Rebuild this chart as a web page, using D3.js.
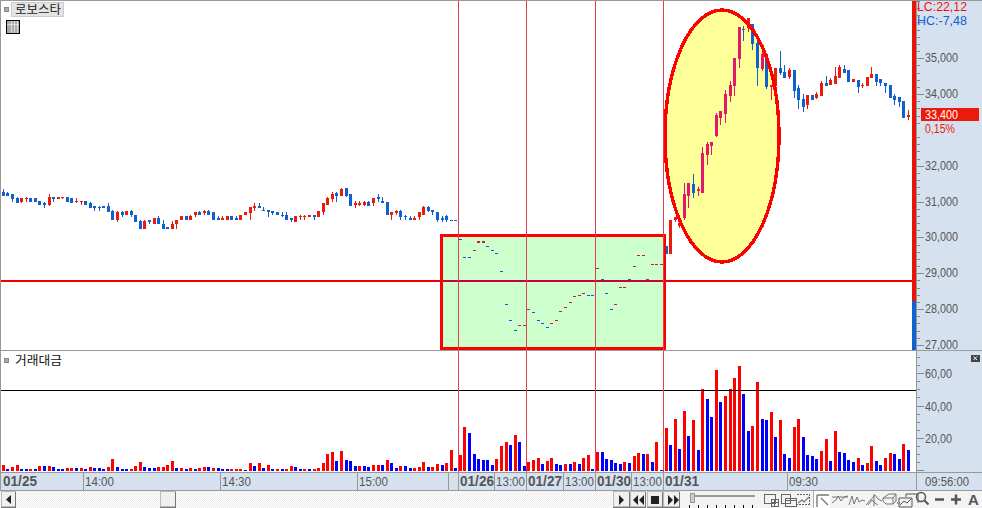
<!DOCTYPE html>
<html><head><meta charset="utf-8">
<script src="https://cdnjs.cloudflare.com/ajax/libs/d3/7.8.5/d3.min.js"></script>
<style>html,body{margin:0;padding:0;background:#fff;overflow:hidden}svg{display:block}text{font-family:"Liberation Sans",sans-serif}</style>
</head><body><svg id="c" width="982" height="508"></svg>
<script>
const stockName = "로보스타", volumeName = "거래대금";
const opens = [31280,31230,31200,31090,31000,31060,31090,31090,31030,30950,30920,31140,31060,31120,31140,31090,31000,31000,31030,30950,
30890,30840,30890,30890,30730,30480,30700,30620,30730,30640,30450,30250,30500,30370,30530,30390,30280,30230,30370,30480,
30590,30500,30620,30700,30670,30730,30700,30530,30500,30500,30590,30530,30500,30620,30670,30810,30890,30780,30780,30730,
30700,30640,30640,30530,30420,30560,30560,30560,30640,30560,30700,30920,31060,31230,31170,31390,31200,30920,30920,30920,
30980,30950,31140,31030,30980,30620,30670,30730,30590,30530,30500,30560,30620,30840,30780,30700,30530,30590,30500,30500,
29950,29450,29450,29610,29860,29860,29760,29640,29560,29060,28140,27700,27420,27530,27530,27970,27920,27700,27610,27500,
27580,27670,27920,28030,28170,28330,28360,28420,28390,28390,29110,28850,28450,28000,28110,28580,28580,28850,29170,29470,
29470,28820,29220,29220,29220,29750,29530,30480,30320,30550,31170,31480,31310,31250,32310,32560,32840,33340,33450,33950,
34230,34980,35810,35840,35950,35430,34700,35120,34200,34230,34730,34620,34480,34670,34170,33870,33700,33980,33900,33950,
34310,34260,34290,34450,34700,34670,34340,34400,34230,34230,34450,34560,34420,34310,34260,33950,33920,33810,33370];
const highs = [31340,31280,31200,31140,31090,31140,31090,31090,31030,30980,31200,31140,31140,31140,31140,31090,31090,31030,31030,30980,
30890,30890,30890,30950,30780,30730,30730,30730,30780,30640,30500,30500,30500,30530,30590,30500,30280,30450,30500,30590,
30590,30640,30700,30730,30780,30780,30700,30590,30590,30590,30590,30590,30640,30700,30840,30950,30950,30840,30780,30730,
30700,30700,30700,30530,30590,30640,30640,30640,30640,30730,30950,31140,31280,31280,31390,31390,31200,31030,31030,31030,
31030,31090,31200,31140,30980,30700,30780,30780,30640,30590,30590,30700,30890,30890,30780,30700,30590,30640,30500,30500,
29950,29450,29450,29640,29890,29890,29760,29640,29560,29060,28140,27700,27420,27560,27560,28000,27920,27700,27610,27500,
27610,27700,27950,28060,28200,28360,28390,28450,28390,28390,29140,28850,28450,28000,28140,28610,28610,28850,29200,29500,
29500,28850,29250,29250,29250,29750,30500,30580,30500,31530,31530,31780,31420,32530,32670,32670,33480,33530,34120,34370,
35010,35870,35900,36120,35950,35560,35340,35120,34260,34730,35200,34810,34730,34670,34260,34010,33980,33980,34060,34370,
34510,34450,34760,34810,34810,34670,34420,34400,34310,34480,34760,34560,34420,34310,34260,34010,33920,33810,33560];
const lows = [31170,31170,31000,30950,30950,31000,31000,31000,30920,30810,30870,31000,31060,31060,31000,30950,30950,30920,30920,30810,
30750,30750,30810,30700,30480,30420,30560,30620,30560,30420,30230,30250,30370,30370,30370,30250,30230,30230,30250,30480,
30480,30480,30560,30620,30620,30620,30500,30480,30480,30500,30500,30480,30500,30620,30500,30750,30810,30750,30560,30620,
30620,30560,30500,30420,30420,30500,30500,30560,30500,30560,30620,30920,31000,31000,31170,31120,30870,30810,30890,30870,
30870,30870,31000,30950,30620,30480,30620,30500,30480,30480,30480,30500,30620,30700,30620,30420,30420,30420,30480,30480,
29920,29420,29420,29610,29860,29860,29730,29610,29530,29030,28110,27670,27390,27530,27530,27970,27890,27670,27580,27470,
27580,27670,27920,28030,28170,28330,28360,28420,28360,28360,29110,28820,28420,27970,28110,28580,28580,28820,29170,29470,
29470,28820,29220,29220,29220,29530,29530,30430,30270,30500,30810,31110,31170,31250,32010,32310,32810,33150,33200,33780,
33950,34730,35480,35730,35230,34230,34650,34150,33840,34230,34540,34450,34420,33900,33590,33510,33590,33840,33870,33950,
34230,34260,34290,34450,34590,34340,34340,34040,34170,34230,34450,34230,34230,34040,33900,33700,33650,33340,33280];
const closes = [31170,31170,31060,30950,31090,31090,31000,31000,30920,30920,31140,31060,31140,31140,31000,30950,31030,31030,30920,30810,
30810,30810,30810,30700,30480,30700,30620,30730,30620,30420,30250,30450,30420,30530,30370,30250,30230,30390,30500,30590,
30500,30590,30700,30620,30730,30620,30500,30480,30530,30590,30500,30500,30640,30700,30840,30890,30810,30750,30700,30670,
30620,30620,30500,30480,30590,30590,30590,30640,30560,30730,30950,31090,31200,31170,31340,31170,30870,30950,30950,30980,
30870,31090,31060,30950,30620,30700,30730,30560,30560,30480,30530,30700,30840,30750,30700,30500,30500,30480,30480,30480,
29920,29420,29420,29640,29890,29890,29730,29610,29530,29030,28110,27670,27390,27560,27560,28000,27890,27670,27580,27470,
27610,27700,27950,28060,28200,28360,28390,28450,28360,28360,29140,28820,28420,27970,28140,28610,28610,28820,29200,29500,
29500,28850,29250,29250,29250,29530,30500,30580,30410,31200,31530,31250,31340,32370,32620,32670,33420,33530,34010,34260,
35010,35870,35790,36120,35400,34730,35120,34190,34260,34730,34590,34450,34670,34090,33840,33650,33980,33840,34010,34310,
34230,34400,34510,34760,34590,34340,34420,34200,34260,34480,34560,34340,34310,34230,33900,33840,33780,33340,33420];
const volumes = [3.1,.6,1.9,3.1,.6,.6,.6,.6,2.5,2.5,2.5,1.9,.6,.6,1.2,1.2,1.2,1.2,.6,1.9,1.2,1.2,.6,1.9,6.8,1.9,.6,.6,.6,2.5,5,1.9,1.2,1.2,1.9,1.9,3.1,5.6,1.2,1.2,.6,1.2,.6,1.2,1.9,1.9,1.2,1.2,.6,.6,.6,.6,
.6,.1,4.3,2.5,4.3,1.2,3.1,.6,.6,.6,.6,2.5,1.9,.6,.6,.6,.6,1.2,4.3,9.9,11.2,5.6,11.8,6.2,5.6,2.5,2.5,2.5,1.9,3.1,3.1,3.1,6.2,4.3,1.2,2.5,2.5,1.2,1.2,1.9,5,1.9,1.9,3.7,3.1,4.3,12.4,1.2,
9.3,26.7,23,9.9,6.8,6.2,6.2,3.1,6.8,14.9,17.4,15.5,21.7,17.4,2.5,5,6.2,7.4,3.7,5.6,7.4,3.7,3.1,3.7,3.7,5,3.7,7.4,9.3,.6,11.2,11.2,6.8,6.2,4.3,3.7,5,4.3,8.7,10.5,9.9,9.9,5,17.4,.1,26.1,
15.5,31.6,13,36.6,21.1,31,12.4,50.3,44,32.9,62,42.2,45.9,50.3,57.1,64.5,47.1,24.2,27.3,54.6,31.6,31,36,20.5,31,9.9,7.4,26.7,31.6,20.5,9.3,8.7,6.8,11.8,19.2,5.6,24.2,11.2,10.5,6.2,5,7.4,3.1,4.3,14.9,5.6,3.1,7.4,10.5,9.9,6.8,16.1,12.4];
const volumeUp = [1,0,1,1,0,0,1,0,1,0,1,0,0,0,1,1,0,1,0,1,0,0,0,1,1,0,0,0,1,1,1,0,0,0,1,1,1,1,0,1,0,1,0,1,1,0,1,0,0,0,1,1,
1,0,1,0,1,0,1,0,1,0,1,1,0,0,1,0,1,1,1,1,1,0,1,0,0,0,1,0,0,1,1,0,1,0,0,1,0,0,1,1,1,0,1,1,0,1,1,0,
1,1,0,0,0,0,0,0,1,1,1,0,1,0,0,1,1,1,0,1,1,0,0,1,0,1,0,1,1,0,1,0,0,0,0,0,1,0,1,1,0,1,0,1,0,1,
0,1,0,1,0,1,0,1,0,0,1,0,1,1,1,1,0,0,1,1,0,0,1,0,1,0,0,1,1,0,0,0,0,1,1,0,1,0,0,0,0,1,0,1,1,0,0,1,1,0,0,1,0];
const priceTicks = [35000,34000,33000,32000,31000,30000,29000,28000,27000];
const priceTickLabels = ["35,000","34,000","","32,000","31,000","30,000","29,000","28,000","27,000"];
const volumeTicks = [20,40,60];
const volumeTickLabels = ["20,00","40,00","60,00"];
const dayLines = [99.5,114.5,129.5,144.5];
const timeSeparators = [17.5,47.5,77.5,97.5,99.5,107.5,114.5,122.5,129.5,137.5,144.5,171.5];
const timeLabels = [[-1,"01/25",1],[17.5,"14:00",0],[47.5,"14:30",0],[77.5,"15:00",0],[99.5,"01/26",1],[107.5,"13:00",0],[114.5,"01/27",1],[122.5,"13:00",0],[129.5,"01/30",1],[137.5,"13:00",0],[144.5,"01/31",1],[171.5,"09:30",0]];
const referencePrice = 28820, referenceVolume = 49.5;
const lastPrice = "33,400", lastChange = "0,15%", lcText = "LC:22,12", hcText = "HC:-7,48", lastTime = "09:56:00";

const RED="#ec1a0a", BLUE="#1060d0", PINK="#e2186a", GREY="#999", BAND="#d6e1ef", TXT="#555";
const svg=d3.select("#c");
const x=d3.scaleLinear().domain([0,198]).range([3.3,908.3]);
const yP=d3.scaleLinear().domain([35000,27000]).range([58.3,345]);
const yV=d3.scaleLinear().domain([0,60]).range([470,373.3]);
const n=opens.length, rows=d3.range(n);
const ell={cx:722,cy:136,rx:57,ry:126};

// background + overlays
svg.append("rect").attr("width",982).attr("height",508).attr("fill","#fff");
const bx0=441.5,bx1=664.5,by0=235.5,by1=348.5;
svg.append("rect").attr("x",bx0).attr("y",by0).attr("width",bx1-bx0).attr("height",by1-by0).attr("fill","#ccffcc");
svg.append("ellipse").attr("cx",ell.cx).attr("cy",ell.cy).attr("rx",ell.rx).attr("ry",ell.ry).attr("fill","#ffff99");

// candles
const candle=svg.append("g").attr("shape-rendering","crispEdges");
const inEll=(px,py)=>((px-ell.cx)/ell.rx)**2+((py-ell.cy)/ell.ry)**2<1;
rows.forEach(i=>{
  const up=closes[i]>opens[i], px=Math.round(x(i)-1.5);
  const top=Math.round(yP(Math.max(opens[i],closes[i]))), bot=Math.round(yP(Math.min(opens[i],closes[i])));
  const col=up?(inEll(x(i),(top+bot)/2)?PINK:(i>=100&&i<145?"#d01840":RED)):(i>=100&&i<145?"#1a50e8":BLUE);
  const wt=Math.round(yP(highs[i])), wb=Math.round(yP(lows[i]));
  if(wb>wt) candle.append("rect").attr("x",px+1).attr("y",wt).attr("width",1).attr("height",wb-wt).attr("fill",col);
  candle.append("rect").attr("x",px).attr("y",top).attr("width",3).attr("height",Math.max(1,bot-top)).attr("fill",col);
});

// reference line
const ry=Math.round(yP(referencePrice));
const hl=svg.append("g").attr("shape-rendering","crispEdges");
hl.append("rect").attr("x",0).attr("y",ry).attr("width",913).attr("height",2).attr("fill","#f00000");
hl.append("rect").attr("x",bx0).attr("y",ry).attr("width",bx1-bx0).attr("height",2).attr("fill","#c8003c");

// overlay strokes
svg.append("rect").attr("x",bx0).attr("y",by0).attr("width",bx1-bx0).attr("height",by1-by0).attr("fill","none").attr("stroke","#ff0000").attr("stroke-width",3).attr("shape-rendering","crispEdges");
svg.append("ellipse").attr("cx",ell.cx).attr("cy",ell.cy).attr("rx",ell.rx).attr("ry",ell.ry).attr("fill","none").attr("stroke","#ff0000").attr("stroke-width",3.4).attr("shape-rendering","crispEdges");

// volume bars
const vg=svg.append("g").attr("shape-rendering","crispEdges");
vg.selectAll("rect").data(rows).join("rect")
  .attr("x",i=>Math.round(x(i)-1.5)).attr("width",3)
  .attr("y",i=>Math.round(yV(volumes[i]))).attr("height",i=>471-Math.round(yV(volumes[i])))
  .attr("fill",i=>volumeUp[i]?"#ff0000":"#0000ff");
vg.append("rect").attr("x",1).attr("y",Math.round(yV(referenceVolume))).attr("width",915).attr("height",1).attr("fill","#000");

// right axis band
const chrome=svg.append("g").attr("shape-rendering","crispEdges");
chrome.append("rect").attr("x",916).attr("y",1).attr("width",66).attr("height",489).attr("fill",BAND);
chrome.append("rect").attr("x",0).attr("y",472).attr("width",982).attr("height",18).attr("fill",BAND);
chrome.append("rect").attr("x",912).attr("y",1).attr("width",4).attr("height",300).attr("fill","#e81408");
chrome.append("rect").attr("x",912).attr("y",301).attr("width",4).attr("height",49).attr("fill",BLUE);

// day lines
dayLines.forEach(d=>{chrome.append("rect").attr("x",Math.floor(x(d))).attr("y",1).attr("width",1).attr("height",471).attr("fill","#e0404c");});

// frame
[[0,0,982,1],[0,350,982,1],[0,472,982,1],[0,490,982,1],[0,0,1,490],[916,0,1,490],[1,350,915,1]].forEach(r=>chrome.append("rect").attr("x",r[0]).attr("y",r[1]).attr("width",r[2]).attr("height",r[3]).attr("fill",GREY));
timeSeparators.forEach(d=>chrome.append("rect").attr("x",Math.floor(x(d))).attr("y",472).attr("width",1).attr("height",18).attr("fill",GREY));

// price axis
d3.range(27000,36801,200).forEach(p=>{const yy=Math.round(yP(p));chrome.append("rect").attr("x",917).attr("y",yy).attr("width",p%1000?3:7).attr("height",1).attr("fill","#888").attr("opacity",(p===33000)?0:1);});
function tx(px,py,s,o={}){const t=svg.append("text").attr("x",px).attr("y",py).attr("fill",o.fill||TXT).attr("font-size",o.size||13).text(s);
  if(o.len){t.attr("textLength",o.len).attr("lengthAdjust","spacingAndGlyphs");}
  if(o.bold)t.attr("font-weight","bold"); if(o.font)t.style("font-family",o.font); if(o.anchor)t.attr("text-anchor",o.anchor); return t;}
priceTicks.forEach((p,i)=>{if(priceTickLabels[i]) tx(925,yP(p)+4,priceTickLabels[i],{len:33});});
// volume axis
d3.range(0,71,5).forEach(v=>{const yy=Math.round(yV(v));if(yy>352)chrome.append("rect").attr("x",917).attr("y",yy).attr("width",v%20?3:7).attr("height",1).attr("fill","#888");});
volumeTicks.forEach((v,i)=>tx(925,yV(v)+5,volumeTickLabels[i],{len:27}));
// time labels
timeLabels.forEach(l=>{const lx=l[0]<0?3:Math.floor(x(l[0]))+2;tx(lx,486,l[1],l[2]?{bold:1,len:34,size:14}:{len:29});});
tx(925,486,lastTime,{len:44});
// header texts
tx(917,11,lcText,{fill:"#f01010",len:50});
tx(917,25,hcText,{fill:"#1060d0",len:50});
chrome.append("rect").attr("x",921).attr("y",108).attr("width",58).attr("height",13).attr("fill",RED);
tx(925,119,lastPrice,{fill:"#fff",len:33});
tx(925,132.5,lastChange,{fill:"#ec1a0a",len:30,size:12});

// title boxes
const ui=svg.append("g").attr("shape-rendering","crispEdges");
const sq=(xx,yy)=>ui.append("rect").attr("x",xx).attr("y",yy).attr("width",4).attr("height",4).attr("fill","#aaa").attr("stroke","#888");
sq(4,7);sq(4,358);
ui.append("rect").attr("x",11.5).attr("y",2.5).attr("width",52).attr("height",14).attr("fill","#e4e4e4").attr("stroke","#ccc");
tx(15,14,stockName,{fill:"#222",size:12,font:'"Noto Sans CJK KR"',len:46});
tx(15,365,volumeName,{fill:"#111",size:12,font:'"Noto Sans CJK KR"',len:47});
ui.append("rect").attr("x",6.5).attr("y",20.5).attr("width",13).attr("height",13).attr("fill","#aaa").attr("stroke","#000");
[10.5,13.5,16.5].forEach(v=>ui.append("rect").attr("x",v).attr("y",21).attr("width",1).attr("height",12).attr("fill","#ddd"));
ui.append("rect").attr("x",7).attr("y",24).attr("width",12).attr("height",1).attr("fill","#ddd");
// close button in volume panel
ui.append("rect").attr("x",971).attr("y",355).attr("width",9).attr("height",7).attr("fill","#444");
svg.append("path").attr("d","M973.5 356.5l3.5 3.5M977 356.5l-3.5 3.5").attr("stroke","#fff").attr("stroke-width",1);

// bottom strip
const defs=svg.append("defs");
const pt=defs.append("pattern").attr("id","dots").attr("width",2).attr("height",2).attr("patternUnits","userSpaceOnUse");
pt.append("rect").attr("width",2).attr("height",2).attr("fill","#fff");
pt.append("rect").attr("width",1).attr("height",1).attr("fill","#ececec");
pt.append("rect").attr("x",1).attr("y",1).attr("width",1).attr("height",1).attr("fill","#ececec");
ui.append("rect").attr("x",0).attr("y",491).attr("width",613).attr("height",17).attr("fill","url(#dots)");
ui.append("rect").attr("x",613).attr("y",491).attr("width",369).attr("height",17).attr("fill","#f3f3f3");
function btn(xx,w){ui.append("rect").attr("x",xx+.5).attr("y",491.5).attr("width",w-1).attr("height",15).attr("fill","#f0f0f0").attr("stroke","#bbb");
  ui.append("path").attr("d",`M${xx+w-.5} 492V507H${xx}`).attr("fill","none").attr("stroke","#777");}
btn(1,15);btn(160,16);btn(613,17);btn(630,16);btn(647,16);btn(663,17);
const ic=svg.append("g");
const K="#222";
ic.append("path").attr("d","M11 495v9l-5-4.5z").attr("fill",K);
ic.append("path").attr("d","M619 495v10l5-5z").attr("fill",K);
ic.append("path").attr("d","M638 495v10l-5-5zM644 495v10l-5-5z").attr("fill",K);
ic.append("rect").attr("x",651).attr("y",496).attr("width",8).attr("height",8).attr("fill",K);
ic.append("path").attr("d","M668 495v10l5-5zM674 495v10l5-5z").attr("fill",K);
// slider
const sl=svg.append("g").attr("shape-rendering","crispEdges");
sl.append("rect").attr("x",691).attr("y",495).attr("width",64).attr("height",2).attr("fill","#999");
sl.append("rect").attr("x",690).attr("y",493).attr("width",4).attr("height",9).attr("fill","#ccc").attr("stroke","#999");
d3.range(689,756,9).forEach(v=>sl.append("rect").attr("x",v).attr("y",505).attr("width",1).attr("height",3).attr("fill","#000"));
sl.append("rect").attr("x",813).attr("y",491).attr("width",17).attr("height",17).attr("fill","#fff");
sl.append("rect").attr("x",813).attr("y",491).attr("width",1).attr("height",17).attr("fill","#aaa");
// tool icons
const g2=svg.append("g").attr("fill","none").attr("stroke","#666").attr("stroke-width",1).attr("shape-rendering","crispEdges");
g2.append("path").attr("d","M764 494h11v9h-11zM771 499h7v7h-7zM771 502.5h7M774.5 499v7");
g2.append("path").attr("d","M781 494h9v9h-9zM785 498h11v8h-11zM785 500h11");
g2.append("path").attr("d","M797 494h12v10h-12").attr("stroke-dasharray","2 1");
const g3=svg.append("g").attr("fill","none").attr("stroke","#777").attr("stroke-width",1.2);
g3.append("path").attr("d","M798 503l4-3 2 2 5-5");
g3.append("path").attr("d","M817 507v-12M817 495h12M821 498l7 7").attr("stroke-width",1.4);
g3.append("path").attr("d","M832 503l4-3 2-4 3 5 3-4 4-1M832 497h16").attr("stroke-width",1);
g3.append("path").attr("d","M849 505l3-9 2 8 3-7 2 5 3-2 3 1").attr("stroke-width",1);
g3.append("path").attr("d","M866 505l9-10 3 4 4 2M868 505l4-5 3 3 3 2M874 494v12").attr("stroke-width",1);
g3.append("path").attr("d","M883 498l6-4h7v7l-3 3h-7l-3-3zM883 498h10l3-4M893 498v6").attr("stroke-width",1);
g3.append("path").attr("d","M897 503h1M899 503h1").attr("stroke","#333").attr("stroke-width",1);
g3.append("path").attr("d","M906 497v-3h12v9M899 498h13v9h-13zM900 505l4-4 3 2 4-4").attr("stroke","#555").attr("stroke-width",1);
g3.append("circle").attr("cx",921).attr("cy",497).attr("r",4.5).attr("stroke","#555").attr("stroke-width",1.5);
g3.append("path").attr("d","M924.5 500.5l4 4").attr("stroke","#555").attr("stroke-width",2);
g3.append("path").attr("d","M935 499.5h9").attr("stroke","#555").attr("stroke-width",2.5);
g3.append("path").attr("d","M951 499.5h10M956 494.5v10").attr("stroke","#555").attr("stroke-width",2.5);
tx(968,505,"A",{bold:1,size:15,fill:"#555"});
</script></body></html>
